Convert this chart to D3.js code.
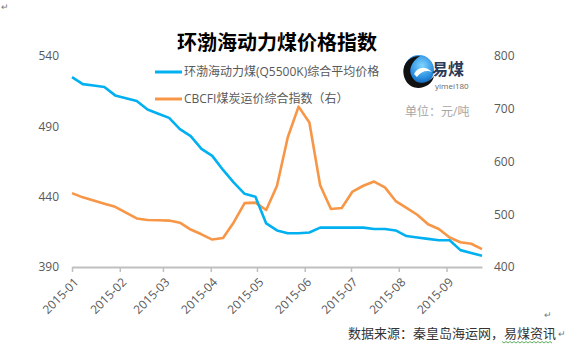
<!DOCTYPE html>
<html>
<head>
<meta charset="utf-8">
<script src="https://cdn.jsdelivr.net/npm/d3@7"></script>
<style>
  body { margin: 0; background: #fff; }
  text { font-family: "Open Sans", "Noto Sans CJK SC", sans-serif; }
</style>
</head>
<body>
<svg id="chart" width="583" height="351"></svg>
<script>
// weekly dates
const dates = [
  "2015-01-01", "2015-01-08", "2015-01-15", "2015-01-22", "2015-01-29",
  "2015-02-05", "2015-02-12", "2015-02-19", "2015-02-26",
  "2015-03-05", "2015-03-12", "2015-03-19", "2015-03-26",
  "2015-04-02", "2015-04-09", "2015-04-16", "2015-04-23", "2015-04-30",
  "2015-05-07", "2015-05-14", "2015-05-21", "2015-05-28",
  "2015-06-04", "2015-06-11", "2015-06-18", "2015-06-25",
  "2015-07-02", "2015-07-09", "2015-07-16", "2015-07-23", "2015-07-30",
  "2015-08-06", "2015-08-13", "2015-08-20", "2015-08-27",
  "2015-09-03", "2015-09-10", "2015-09-17", "2015-09-24"
];
// 环渤海动力煤(Q5500K)综合平均价格 (left axis)
const bspi = [
  525, 520, 519, 518, 512, 510, 508, 502, 499, 496, 488, 483, 474,
  469, 459, 450, 442, 440, 421, 416, 414, 414, 414.5, 418, 418, 418,
  418, 418, 417, 417, 416, 412, 411, 410, 409, 409, 402, 400, 398
];
// CBCFI煤炭运价综合指数 (right axis)
const cbcfi = [
  540, 532, 526, 520, 514, 503, 492, 489, 488.5, 488, 484, 471, 462,
  452, 455, 485, 521, 522, 508, 554, 646, 704, 674, 555, 510, 512,
  543, 554, 562, 551, 525, 512, 499, 481, 472, 456, 447, 444, 434
];
const leftTicks = [390, 440, 490, 540];
const rightTicks = [400, 500, 600, 700, 800];
const seriesNames = ["环渤海动力煤(Q5500K)综合平均价格", "CBCFI煤炭运价综合指数（右）"];
const colors = ["#00b0f0", "#f79646"];

const svg = d3.select("#chart");
const parse = d3.timeParse("%Y-%m-%d");
const xDates = dates.map(parse);

const x = d3.scaleTime()
    .domain([xDates[0], xDates[xDates.length - 1]])
    .range([72, 482]);
const yL = d3.scaleLinear().domain([390, 540]).range([267, 56]);
const yR = d3.scaleLinear().domain([400, 800]).range([267, 56]);

// title
svg.append("text")
    .attr("x", 277)
    .attr("y", 50)
    .attr("text-anchor", "middle")
    .style("font-family", "'Noto Sans CJK SC', sans-serif")
    .style("font-size", "20px")
    .style("font-weight", "bold")
    .style("fill", "#000")
    .text("环渤海动力煤价格指数");

// x axis
const xAxis = svg.append("g")
    .attr("transform", "translate(0,267)")
    .call(d3.axisBottom(x)
        .tickValues(d3.timeMonth.range(parse("2015-01-01"), parse("2015-09-02")))
        .tickFormat(d3.timeFormat("%Y-%m"))
        .tickSize(5)
        .tickSizeOuter(0));
xAxis.select(".domain").attr("stroke", "#bfbfbf").attr("stroke-width", 2);
xAxis.selectAll(".tick line").attr("stroke", "#bfbfbf").attr("stroke-width", 1.5);
xAxis.selectAll(".tick text")
    .attr("x", 0).attr("y", 0).attr("dy", "0.35em")
    .attr("text-anchor", "end")
    .attr("transform", "translate(4,13) rotate(-45)")
    .style("font-size", "12px")
    .style("fill", "#595959");

// y axes
const yAxisL = svg.append("g")
    .attr("transform", "translate(59,0)")
    .call(d3.axisLeft(yL).tickValues(leftTicks).tickSize(0).tickPadding(0));
const yAxisR = svg.append("g")
    .attr("transform", "translate(494,0)")
    .call(d3.axisRight(yR).tickValues(rightTicks).tickSize(0).tickPadding(0));
[yAxisL, yAxisR].forEach(a => {
    a.select(".domain").remove();
    a.selectAll("text").style("font-size", "12px").style("fill", "#595959");
});

// lines
const lineL = d3.line().x((d, i) => x(xDates[i])).y(d => yL(d));
const lineR = d3.line().x((d, i) => x(xDates[i])).y(d => yR(d));

svg.append("path")
    .datum(cbcfi)
    .attr("d", lineR)
    .attr("fill", "none")
    .attr("stroke", colors[1])
    .attr("stroke-width", 2.6)
    .attr("stroke-linejoin", "round");

svg.append("path")
    .datum(bspi)
    .attr("d", lineL)
    .attr("fill", "none")
    .attr("stroke", colors[0])
    .attr("stroke-width", 2.6)
    .attr("stroke-linejoin", "round");

// legend
const legend = svg.append("g");
seriesNames.forEach((name, i) => {
    const ly = 72 + i * 27;
    legend.append("line")
        .attr("x1", 155).attr("x2", 182)
        .attr("y1", ly).attr("y2", ly)
        .attr("stroke", colors[i])
        .attr("stroke-width", 3);
    legend.append("text")
        .attr("x", 184)
        .attr("y", ly)
        .attr("dy", "0.35em")
        .style("font-size", "12px")
        .style("fill", "#595959")
        .text(name);
});

// logo
const defs = svg.append("defs");
const grad = defs.append("radialGradient")
    .attr("id", "logoGrad")
    .attr("cx", "60%").attr("cy", "35%").attr("r", "70%");
grad.append("stop").attr("offset", "0%").attr("stop-color", "#7fd4ff");
grad.append("stop").attr("offset", "60%").attr("stop-color", "#2a8ee0");
grad.append("stop").attr("offset", "100%").attr("stop-color", "#0b4b9e");

const logo = svg.append("g");
logo.append("circle")
    .attr("cx", 419).attr("cy", 70).attr("r", 15)
    .attr("fill", "url(#logoGrad)");
logo.append("path")
    .attr("d", "M406,81 C399,68 407,56 420,56 C411,62 408,70 412,77 C416,85 427,85 434,76 C432,88 413,93 406,81 Z")
    .attr("fill", "#111");
logo.append("path")
    .attr("d", "M414,74 C418,66 426,66 432,72 C427,70 421,71 417,77 Z")
    .attr("fill", "#fff");
logo.append("text")
    .attr("x", 432).attr("y", 75)
    .style("font-family", "'Noto Sans CJK SC', sans-serif")
    .style("font-size", "16px")
    .style("font-weight", "bold")
    .style("fill", "#2b3a57")
    .text("易煤");
logo.append("text")
    .attr("x", 435).attr("y", 89)
    .style("font-size", "8px")
    .style("fill", "#666")
    .text("yimei180");

svg.append("text")
    .attr("x", 405).attr("y", 112)
    .attr("dy", "0.35em")
    .style("font-size", "12px")
    .style("fill", "#a6a6a6")
    .text("单位：元/吨");

// source note
svg.append("text")
    .attr("x", 348).attr("y", 333)
    .attr("dy", "0.35em")
    .style("font-size", "13px")
    .style("fill", "#333")
    .text("数据来源：秦皇岛海运网，易煤资讯");
svg.append("text")
    .attr("x", 558).attr("y", 334).attr("dy", "0.35em")
    .style("font-size", "9px").style("fill", "#777").text("↵");
svg.append("text")
    .attr("x", 544).attr("y", 315).attr("dy", "0.35em")
    .style("font-size", "9px").style("fill", "#777").text("↵");
svg.append("text")
    .attr("x", 1).attr("y", 7).attr("dy", "0.35em")
    .style("font-size", "9px").style("fill", "#777").text("↵");

// spell-check wavy underline
const wave = d3.range(502, 554, 2).map((px, i) => [px, 342 + (i % 2 ? 1 : -0.5)]);
svg.append("path")
    .attr("d", d3.line()(wave))
    .attr("fill", "none")
    .attr("stroke", "#3a9a3a")
    .attr("stroke-width", 0.8);
</script>
</body>
</html>
